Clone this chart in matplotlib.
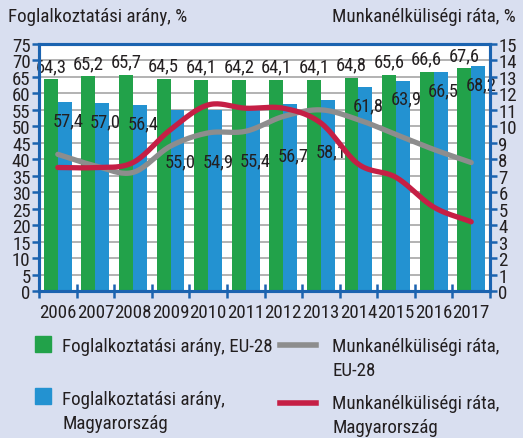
import numpy as np
import matplotlib
matplotlib.use("Agg")
import matplotlib.pyplot as plt
from matplotlib import font_manager as fm
from matplotlib.patches import Rectangle
from matplotlib.lines import Line2D

years = ["2006", "2007", "2008", "2009", "2010", "2011", "2012", "2013", "2014", "2015", "2016", "2017"]
emp_eu = [64.3, 65.2, 65.7, 64.5, 64.1, 64.2, 64.1, 64.1, 64.8, 65.6, 66.6, 67.6]
emp_hu = [57.4, 57.0, 56.4, 55.0, 54.9, 55.4, 56.7, 58.1, 61.8, 63.9, 66.5, 68.2]
unemp_eu = [8.3, 7.6, 7.2, 8.8, 9.6, 9.7, 10.6, 11.0, 10.4, 9.5, 8.6, 7.8]
unemp_hu = [7.5, 7.5, 7.8, 9.8, 11.3, 11.1, 11.1, 10.2, 7.7, 6.9, 5.1, 4.2]
left_ticks = list(range(0, 80, 5))
right_ticks = list(range(0, 16))

# pick a condensed font if one is installed
entries = fm.fontManager.ttflist
names = {f.name for f in entries}
FONT = None
STRETCH = 'normal'
SCALE = 1.0
for cand in ['Liberation Sans Narrow', 'Roboto Condensed', 'Open Sans Condensed']:
    if cand in names:
        FONT = cand
        break
if FONT is None:
    if any(f.name == 'DejaVu Sans' and str(f.stretch) in ('condensed', 'semi-condensed', '87.5', '75')
           for f in entries):
        FONT = 'DejaVu Sans'
        STRETCH = 'condensed'
        SCALE = 0.92
    else:
        FONT = 'DejaVu Sans'
        SCALE = 0.8
plt.rcParams['font.family'] = [FONT, 'DejaVu Sans']
plt.rcParams['font.stretch'] = STRETCH

BG = '#d9dff0'
GREEN = '#22a24a'
BLUE = '#2392d1'
GRAY = '#8d8d8d'
RED = '#c51f45'
FRAME = '#1b63b0'
TXT = '#231f20'

FS = 13.6 * SCALE
FS_LBL = 13.3 * SCALE

W, H = 523, 439
fig = plt.figure(figsize=(W / 100, H / 100), dpi=100, facecolor=BG)
ax = fig.add_axes([39 / W, 1 - 292 / H, (490 - 39) / W, (292 - 45) / H])
ax.set_facecolor('white')

n = len(years)
x = np.arange(n)
bw = 0.37
ax.bar(x - bw / 2, emp_eu, width=bw, color=GREEN, zorder=2)
ax.bar(x + bw / 2, emp_hu, width=bw, color=BLUE, zorder=2)
ax.set_xlim(-0.5, n - 0.5)
ax.set_ylim(0, 75)
ax.set_yticks(left_ticks)
ax.yaxis.grid(True, color='#a6a6a6', lw=1.2)
ax.set_axisbelow(True)

# labels
for i in range(n):
    ax.annotate(f"{emp_eu[i]:.1f}".replace('.', ','), (x[i] - bw / 2, emp_eu[i]),
                xytext=(0, 3), textcoords='offset points', ha='center', va='bottom',
                fontsize=FS_LBL, color=TXT, zorder=5)
hu_off = [-13, -13, -13, -37, -37, -37, -37, -37, -13, -13, -13, -13]
for i in range(n):
    ax.annotate(f"{emp_hu[i]:.1f}".replace('.', ','), (x[i] + bw / 2 + 0.08, emp_hu[i]),
                xytext=(0, hu_off[i]), textcoords='offset points', ha='center', va='center',
                fontsize=FS_LBL, color=TXT, zorder=5)

ax2 = ax.twinx()
ax2.set_ylim(0, 15)
ax2.set_yticks(right_ticks)


def smooth(xs, ys, k=20):
    xs = np.asarray(xs, float)
    ys = np.asarray(ys, float)
    px = np.concatenate([[2 * xs[0] - xs[1]], xs, [2 * xs[-1] - xs[-2]]])
    py = np.concatenate([[2 * ys[0] - ys[1]], ys, [2 * ys[-1] - ys[-2]]])
    ox, oy = [], []
    for i in range(1, len(px) - 2):
        t = np.linspace(0, 1, k, endpoint=False)
        for arr, out in ((px, ox), (py, oy)):
            p0, p1, p2, p3 = arr[i - 1], arr[i], arr[i + 1], arr[i + 2]
            out.extend(0.5 * ((2 * p1) + (-p0 + p2) * t + (2 * p0 - 5 * p1 + 4 * p2 - p3) * t ** 2
                              + (-p0 + 3 * p1 - 3 * p2 + p3) * t ** 3))
    ox.append(xs[-1]); oy.append(ys[-1])
    return np.array(ox), np.array(oy)

sx, sy = smooth(x, unemp_eu)
ax2.plot(sx, sy, color=GRAY, lw=3.8, solid_capstyle='round', zorder=3)
sx, sy = smooth(x, unemp_hu)
ax2.plot(sx, sy, color=RED, lw=3.8, solid_capstyle='round', zorder=3)

for a in (ax, ax2):
    for s in a.spines.values():
        s.set_color(FRAME)
        s.set_linewidth(2.2)

ax.set_xticks(np.arange(-0.5, n, 1.0))
ax.set_xticklabels([])
ax.set_xticks(x, minor=True)
ax.set_xticklabels(years, minor=True)
ax.tick_params(axis='x', which='major', direction='inout', length=10, width=1.8, color=FRAME)
ax.tick_params(axis='x', which='minor', length=0, pad=9, labelsize=FS, labelcolor=TXT)
ax.tick_params(axis='y', direction='out', length=5, width=1.8, color=FRAME, labelsize=FS,
               labelcolor=TXT, pad=1)
ax2.tick_params(axis='y', direction='out', length=5, width=1.8, color=FRAME, labelsize=FS,
                labelcolor=TXT, pad=1)

fig.text(8 / W, 1 - 17 / H, "Foglalkoztatási arány, %", fontsize=FS, color=TXT, va='center', ha='left')
fig.text(516 / W, 1 - 17 / H, "Munkanélküliségi ráta, %", fontsize=FS, color=TXT, va='center', ha='right')

# legend
def fx(px):
    return px / W

def fy(py):
    return 1 - py / H

fig.patches.append(Rectangle((fx(35), fy(353)), 16 / W, 16 / H, transform=fig.transFigure,
                             color=GREEN, figure=fig))
fig.patches.append(Rectangle((fx(35), fy(405)), 16 / W, 16 / H, transform=fig.transFigure,
                             color=BLUE, figure=fig))
fig.lines.append(Line2D([fx(280), fx(316)], [fy(346), fy(346)], transform=fig.transFigure,
                        color=GRAY, lw=4, figure=fig))
fig.lines.append(Line2D([fx(280), fx(316)], [fy(404), fy(404)], transform=fig.transFigure,
                        color=RED, lw=4, figure=fig))
lk = dict(fontsize=FS, color=TXT, va='center', ha='left', linespacing=1.4)
fig.text(fx(62), fy(347), "Foglalkoztatási arány, EU-28", **lk)
fig.text(fx(62), fy(412), "Foglalkoztatási arány,\nMagyarország", **lk)
fig.text(fx(332), fy(359), "Munkanélküliségi ráta,\nEU-28", **lk)
fig.text(fx(332), fy(416), "Munkanélküliségi ráta,\nMagyarország", **lk)

fig.savefig("out.png", dpi=100, facecolor=BG)
